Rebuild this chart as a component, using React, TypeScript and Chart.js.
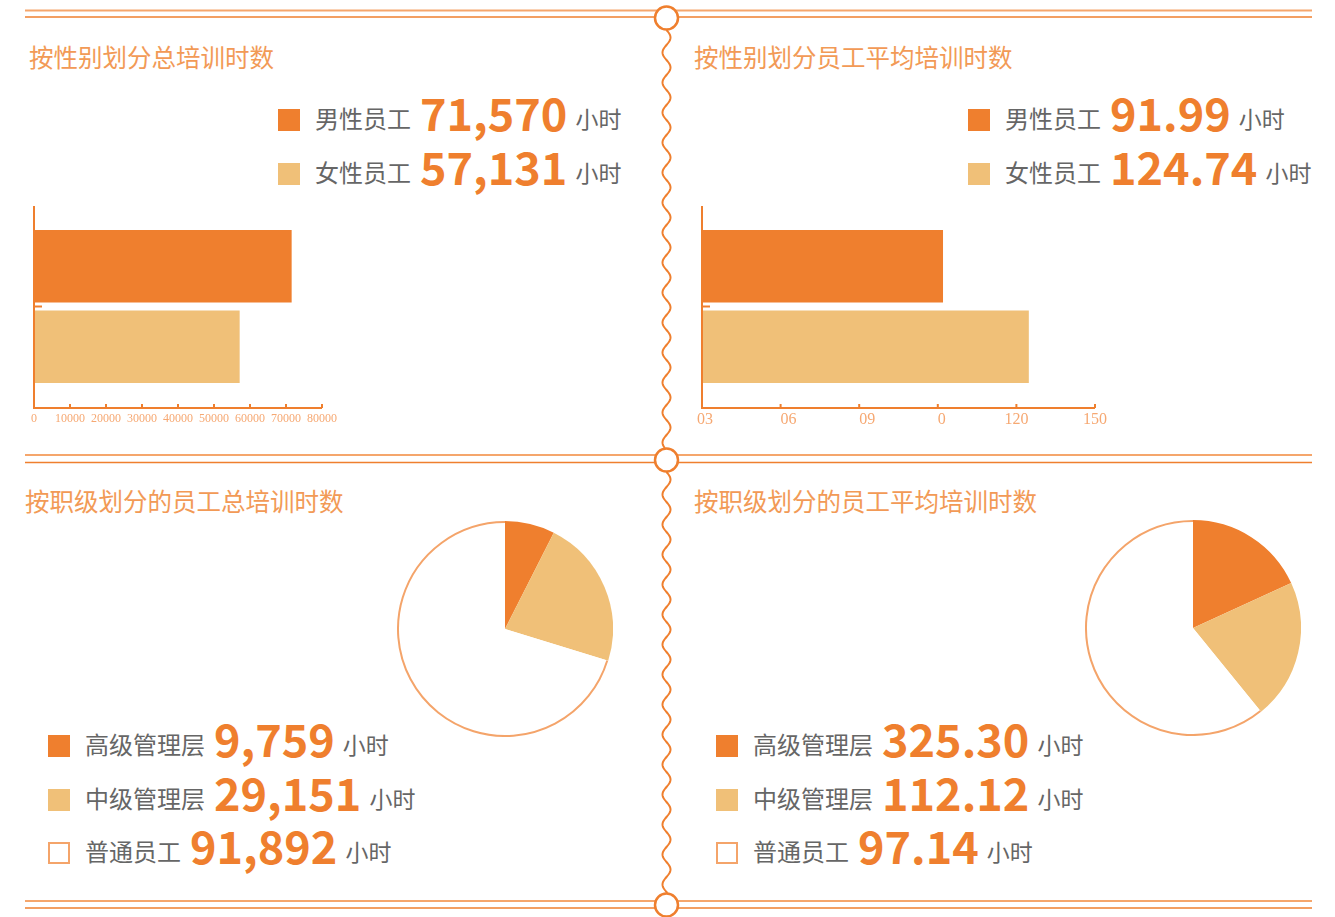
import React, { useEffect, useRef } from 'react';
import { Chart, registerables } from 'chart.js';

Chart.register(...registerables);

// ---------- data ----------
const genderLabels = ['男性员工', '女性员工'];
const genderTotalHours = [71570, 57131];
const genderAvgHours = [91.99, 124.74];
const totalAxisMax = 80000;
const totalAxisStep = 10000;
const totalTickLabels = ['0', '10000', '20000', '30000', '40000', '50000', '60000', '70000', '80000'];
const avgAxisMax = 150;
const avgAxisStep = 30;
const avgTickLabels = ['03', '06', '09', '0', '120', '150'];
const levelLabels = ['高级管理层', '中级管理层', '普通员工'];
const levelTotalHours = [9759, 29151, 91892];
const levelAvgHours = [325.3, 112.12, 97.14];
// slice sizes as drawn in the second pie (clockwise from top)
const levelAvgPieValues = [97.14, 112.12, 325.3];
const unitText = '小时';

// ---------- styles ----------
const ORANGE = '#EF7F2E';
const LIGHT = '#F0C078';
const OUTLINE = '#F4A46A';
const TITLE = '#F29A56';
const GRAY = '#666666';
const TICK = '#F6A872';
const CJK = '"Noto Sans CJK SC", "Noto Sans", sans-serif';
const SERIF = '"Liberation Serif", "DejaVu Serif", serif';
// label alignment styles for the tick labels of each bar chart
const totalTickAlign = ['center', 'center', 'center', 'center', 'center', 'center', 'center', 'center', 'center'];
const avgTickAlign = ['left', 'left', 'left', 'left', 'center', 'center'];
const avgTickNudge = [-5, 0, 0, 0, 0, 0];

const axisPlugin = {
  id: 'customAxes',
  afterDraw(chart: any) {
    const { ctx, chartArea, scales } = chart;
    const opts = chart.options.plugins.customAxes;
    const x = scales.x;
    const y = scales.y;
    ctx.save();
    ctx.strokeStyle = ORANGE;
    ctx.lineWidth = 2;
    ctx.lineCap = 'butt';
    ctx.beginPath();
    ctx.moveTo(chartArea.left, chartArea.top);
    ctx.lineTo(chartArea.left, chartArea.bottom + 1);
    ctx.lineTo(chartArea.right, chartArea.bottom + 1);
    ctx.stroke();
    x.ticks.forEach((t: any) => {
      const px = x.getPixelForValue(t.value);
      if (px <= chartArea.left + 1) return;
      ctx.beginPath();
      ctx.moveTo(px, chartArea.bottom + 1);
      ctx.lineTo(px, chartArea.bottom - 3);
      ctx.stroke();
    });
    const py = y.getPixelForValue(0);
    ctx.beginPath();
    ctx.moveTo(chartArea.left, py);
    ctx.lineTo(chartArea.left + 8, py);
    ctx.stroke();
    // tick labels
    ctx.fillStyle = TICK;
    ctx.font = `${opts.fontSize}px ${SERIF}`;
    ctx.textBaseline = 'top';
    x.ticks.forEach((t: any, i: number) => {
      const px = x.getPixelForValue(t.value);
      ctx.textAlign = opts.align[i] || 'center';
      ctx.fillText(opts.labels[i] ?? '', px + (opts.nudge?.[i] || 0), chartArea.bottom + opts.labelGap);
    });
    ctx.restore();
  },
};

const outlinePlugin = {
  id: 'whiteSliceOutline',
  afterDatasetsDraw(chart: any) {
    const meta = chart.getDatasetMeta(0);
    const ctx = chart.ctx;
    const colors = chart.data.datasets[0].backgroundColor;
    meta.data.forEach((arc: any, i: number) => {
      if (colors[i] !== '#FFFFFF') return;
      ctx.save();
      ctx.strokeStyle = OUTLINE;
      ctx.lineWidth = 2;
      ctx.beginPath();
      ctx.arc(arc.x, arc.y, arc.outerRadius - 1, arc.startAngle, arc.endAngle);
      ctx.stroke();
      ctx.restore();
    });
  },
};

type BarProps = {
  left: number; top: number; width: number; height: number;
  values: number[]; max: number; step: number; tickLabels: string[];
  align: string[]; nudge?: number[]; labelGap: number;
  fontSize: number; padLeft: number; padRight: number;
};

function BarChart(p: BarProps) {
  const ref = useRef<HTMLCanvasElement>(null);
  useEffect(() => {
    const chart = new Chart(ref.current!, {
      type: 'bar',
      data: {
        labels: [''],
        datasets: [
          { label: genderLabels[0], data: [p.values[0]], backgroundColor: ORANGE, borderWidth: 0 },
          { label: genderLabels[1], data: [p.values[1]], backgroundColor: LIGHT, borderWidth: 0 },
        ],
      },
      options: {
        indexAxis: 'y',
        responsive: false,
        animation: false,
        layout: { padding: { left: p.padLeft, right: p.padRight, top: 16, bottom: 11 } },
        plugins: {
          legend: { display: false },
          tooltip: { enabled: false },
          customAxes: { labels: p.tickLabels, align: p.align, nudge: p.nudge, fontSize: p.fontSize, labelGap: p.labelGap },
        },
        scales: {
          y: { display: false },
          x: {
            min: 0,
            max: p.max,
            grid: { display: false, drawTicks: false },
            border: { display: false },
            afterFit: (s: any) => { s.height = 22; },
            ticks: { stepSize: p.step, autoSkip: false, maxRotation: 0, display: false },
          },
        },
      },
      plugins: [axisPlugin],
    } as any);
    return () => chart.destroy();
  }, []);
  return (
    <canvas
      ref={ref}
      width={p.width}
      height={p.height}
      style={{ position: 'absolute', left: p.left, top: p.top, width: p.width, height: p.height }}
    />
  );
}

type PieProps = { left: number; top: number; size: number; values: number[]; colors: string[] };

function PieChart(p: PieProps) {
  const ref = useRef<HTMLCanvasElement>(null);
  useEffect(() => {
    const chart = new Chart(ref.current!, {
      type: 'pie',
      data: {
        labels: levelLabels,
        datasets: [{ data: p.values, backgroundColor: p.colors, borderWidth: 0 }],
      },
      options: {
        responsive: false,
        animation: false,
        plugins: { legend: { display: false }, tooltip: { enabled: false } },
      },
      plugins: [outlinePlugin],
    } as any);
    return () => chart.destroy();
  }, []);
  return (
    <canvas
      ref={ref}
      width={p.size}
      height={p.size}
      style={{ position: 'absolute', left: p.left, top: p.top, width: p.size, height: p.size }}
    />
  );
}

function Title({ text, left, top }: { text: string; left: number; top: number }) {
  return (
    <div style={{ position: 'absolute', left, top, fontFamily: CJK, fontSize: 24.5, lineHeight: '25px', color: TITLE, whiteSpace: 'nowrap' }}>
      {text}
    </div>
  );
}

type RowProps = { left: number; top: number; color: string; outline?: boolean; label: string; value: string };

function LegendRow(p: RowProps) {
  return (
    <div style={{ position: 'absolute', left: p.left, top: p.top, height: 46, display: 'flex', alignItems: 'center', whiteSpace: 'nowrap', fontFamily: CJK }}>
      <div
        style={{
          width: 22, height: 22, boxSizing: 'border-box', marginRight: 15,
          position: 'relative', top: 1,
          background: p.outline ? '#fff' : p.color,
          border: p.outline ? `2px solid ${OUTLINE}` : 'none',
        }}
      />
      <span style={{ fontSize: 24, lineHeight: '24px', color: GRAY, position: 'relative', top: -1 }}>{p.label}</span>
      <span style={{ fontSize: 45, lineHeight: '46px', fontWeight: 700, color: ORANGE, marginLeft: 9, marginRight: 8, position: 'relative', top: -7 }}>
        {p.value}
      </span>
      <span style={{ fontSize: 23, lineHeight: '23px', color: GRAY, position: 'relative', top: -1 }}>{unitText}</span>
    </div>
  );
}

function Decorations() {
  const hLines = [
    { y1: 10.5, y2: 17 },
    { y1: 455, y2: 462.5 },
    { y1: 901, y2: 908 },
  ];
  const circles = [18, 460, 905];
  const wave = (y0: number, y1: number) => {
    const pts: string[] = [];
    for (let y = y0; y <= y1; y += 1) {
      const x = 666.5 + 4 * Math.sin(((y - y0) / 30) * Math.PI * 2);
      pts.push(`${x.toFixed(2)},${y}`);
    }
    return pts.join(' ');
  };
  return (
    <svg width={1335} height={917} style={{ position: 'absolute', left: 0, top: 0 }}>
      {hLines.map((l, i) => (
        <g key={i}>
          <line x1={25} x2={1312} y1={l.y1} y2={l.y1} stroke="#F5A66C" strokeWidth={2} />
          <line x1={25} x2={1312} y1={l.y2} y2={l.y2} stroke={ORANGE} strokeWidth={1.5} />
        </g>
      ))}
      <polyline points={wave(30, 448)} fill="none" stroke={ORANGE} strokeWidth={2} />
      <polyline points={wave(472, 893)} fill="none" stroke={ORANGE} strokeWidth={2} />
      {circles.map((cy, i) => (
        <circle key={i} cx={666.5} cy={cy} r={11.5} fill="#fff" stroke={ORANGE} strokeWidth={2.5} />
      ))}
    </svg>
  );
}

const fmtTotal = (v: number) => v.toLocaleString('en-US');
const fmtAvg = (v: number) => v.toFixed(2);

export default function App() {
  return (
    <div style={{ position: 'absolute', left: 0, top: 0, width: 1335, height: 917, background: '#fff', overflow: 'hidden' }}>
      <Decorations />
      <Title text="按性别划分总培训时数" left={29} top={44} />
      <Title text="按性别划分员工平均培训时数" left={694} top={44} />
      <Title text="按职级划分的员工总培训时数" left={25} top={488} />
      <Title text="按职级划分的员工平均培训时数" left={694} top={488} />

      <LegendRow left={278} top={96} color={ORANGE} label={genderLabels[0]} value={fmtTotal(genderTotalHours[0])} />
      <LegendRow left={278} top={150} color={LIGHT} label={genderLabels[1]} value={fmtTotal(genderTotalHours[1])} />
      <LegendRow left={968} top={96} color={ORANGE} label={genderLabels[0]} value={fmtAvg(genderAvgHours[0])} />
      <LegendRow left={968} top={150} color={LIGHT} label={genderLabels[1]} value={fmtAvg(genderAvgHours[1])} />

      <LegendRow left={48} top={722} color={ORANGE} label={levelLabels[0]} value={fmtTotal(levelTotalHours[0])} />
      <LegendRow left={48} top={776} color={LIGHT} label={levelLabels[1]} value={fmtTotal(levelTotalHours[1])} />
      <LegendRow left={48} top={829} color={OUTLINE} outline label={levelLabels[2]} value={fmtTotal(levelTotalHours[2])} />
      <LegendRow left={716} top={722} color={ORANGE} label={levelLabels[0]} value={fmtAvg(levelAvgHours[0])} />
      <LegendRow left={716} top={776} color={LIGHT} label={levelLabels[1]} value={fmtAvg(levelAvgHours[1])} />
      <LegendRow left={716} top={829} color={OUTLINE} outline label={levelLabels[2]} value={fmtAvg(levelAvgHours[2])} />

      <BarChart left={0} top={190} width={360} height={250} values={genderTotalHours} max={totalAxisMax} step={totalAxisStep}
        tickLabels={totalTickLabels} align={totalTickAlign} labelGap={6} fontSize={12} padLeft={34} padRight={38} />
      <BarChart left={665} top={190} width={460} height={250} values={genderAvgHours} max={avgAxisMax} step={avgAxisStep}
        tickLabels={avgTickLabels} align={avgTickAlign} nudge={avgTickNudge} labelGap={5} fontSize={16} padLeft={37} padRight={30} />

      <PieChart left={397} top={521} size={216} values={levelTotalHours} colors={[ORANGE, LIGHT, '#FFFFFF']} />
      <PieChart left={1085} top={520} size={216} values={levelAvgPieValues} colors={[ORANGE, LIGHT, '#FFFFFF']} />
    </div>
  );
}
